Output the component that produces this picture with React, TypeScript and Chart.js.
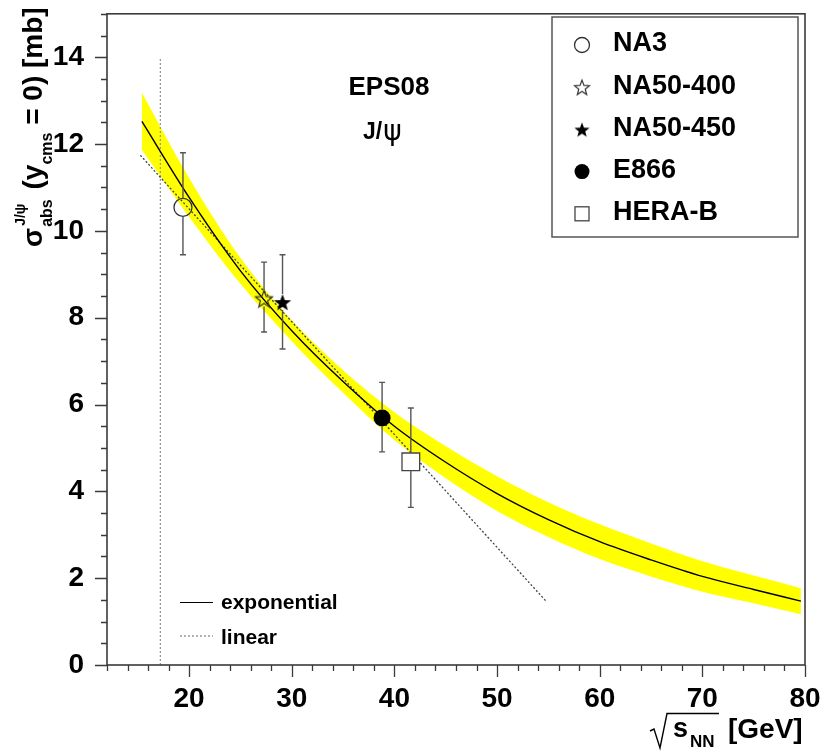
import React, { useEffect, useRef } from "react";
import { Chart, registerables } from "chart.js";

Chart.register(...registerables);

// ---------- data ----------
const xTickValues = [20, 30, 40, 50, 60, 70, 80];
const yTickValues = [0, 2, 4, 6, 8, 10, 12, 14];

// exponential fit curve
const curveX = [15.4, 20, 25, 30, 35, 40, 45, 50, 55, 60, 65, 70, 75, 79.6];
const expCurveY = [12.52, 10.77, 9.08, 7.7, 6.53, 5.5, 4.67, 3.95, 3.35, 2.84, 2.42, 2.04, 1.74, 1.47];
const bandUpper = [13.18, 11.22, 9.38, 7.94, 6.79, 5.82, 5.04, 4.35, 3.75, 3.24, 2.8, 2.39, 2.06, 1.77];
const bandLower = [11.86, 10.32, 8.78, 7.46, 6.27, 5.18, 4.3, 3.55, 2.95, 2.44, 2.04, 1.69, 1.42, 1.17];

// linear fit
const linX = [15.25, 54.85];
const linY = [11.74, 1.45];

// vertical marker at SPS energy
const vX = [17.2, 17.2];
const vY = [0, 14];

// measurements
const expNames = ["NA3", "NA50-400", "NA50-450", "E866", "HERA-B"];
const expX = [19.4, 27.3, 29.1, 38.8, 41.6];
const expY = [10.54, 8.44, 8.36, 5.69, 4.68];
const errHigh = [11.8, 9.28, 9.45, 6.51, 5.92];
const errLow = [9.45, 7.67, 7.28, 4.91, 3.63];

const FONT = "'Liberation Sans', Arial, Helvetica, sans-serif";
const AXIS_COLOR = "#3a3a3a";

function makeStar(size: number, filled: boolean): HTMLCanvasElement {
  const c = document.createElement("canvas");
  c.width = size;
  c.height = size;
  const g = c.getContext("2d")!;
  const cx = size / 2;
  const cy = size / 2 + size * 0.05;
  const R = size / 2 - 1;
  const r = R * 0.42;
  g.beginPath();
  for (let i = 0; i < 10; i++) {
    const a = -Math.PI / 2 + (i * Math.PI) / 5;
    const rad = i % 2 === 0 ? R : r;
    const px = cx + rad * Math.cos(a);
    const py = cy + rad * Math.sin(a);
    if (i === 0) g.moveTo(px, py);
    else g.lineTo(px, py);
  }
  g.closePath();
  if (filled) {
    g.fillStyle = "#000";
    g.fill();
  } else {
    g.strokeStyle = "#333";
    g.lineWidth = 1.2;
    g.stroke();
  }
  return c;
}

function drawMarker(ctx: CanvasRenderingContext2D, kind: number, x: number, y: number, stars: HTMLCanvasElement[]) {
  ctx.save();
  if (kind === 0) {
    ctx.beginPath();
    ctx.arc(x, y, 7.5, 0, Math.PI * 2);
    ctx.strokeStyle = "#333";
    ctx.lineWidth = 1.3;
    ctx.stroke();
  } else if (kind === 1) {
    ctx.drawImage(stars[0], x - stars[0].width / 2, y - stars[0].height / 2);
  } else if (kind === 2) {
    ctx.drawImage(stars[1], x - stars[1].width / 2, y - stars[1].height / 2);
  } else if (kind === 3) {
    ctx.beginPath();
    ctx.arc(x, y, 7.5, 0, Math.PI * 2);
    ctx.fillStyle = "#000";
    ctx.fill();
  } else {
    ctx.strokeStyle = "#444";
    ctx.lineWidth = 1.3;
    ctx.strokeRect(x - 7, y - 7, 14, 14);
  }
  ctx.restore();
}

export default function App() {
  const ref = useRef<HTMLCanvasElement | null>(null);

  useEffect(() => {
    const canvas = ref.current;
    if (!canvas) return;
    const starOpen = makeStar(20, false);
    const starFilled = makeStar(20, true);
    const legendStarOpen = makeStar(18, false);
    const legendStarFilled = makeStar(18, true);

    const pts = (xs: number[], ys: number[]) => xs.map((x, i) => ({ x, y: ys[i] }));

    const decor = {
      id: "decor",
      afterDatasetsDraw(chart: any) {
        const ctx: CanvasRenderingContext2D = chart.ctx;
        const xs = chart.scales.x;
        const ys = chart.scales.y;
        // error bars
        const gaps = [9, 8, 8, 8.5, 9];
        ctx.save();
        ctx.strokeStyle = "#555";
        ctx.lineWidth = 1.4;
        for (let i = 0; i < expX.length; i++) {
          const px = xs.getPixelForValue(expX[i]);
          const py = ys.getPixelForValue(expY[i]);
          const ph = ys.getPixelForValue(errHigh[i]);
          const pl = ys.getPixelForValue(errLow[i]);
          ctx.beginPath();
          ctx.moveTo(px, ph);
          ctx.lineTo(px, py - gaps[i]);
          ctx.moveTo(px, py + gaps[i]);
          ctx.lineTo(px, pl);
          ctx.moveTo(px - 3, ph);
          ctx.lineTo(px + 3, ph);
          ctx.moveTo(px - 3, pl);
          ctx.lineTo(px + 3, pl);
          ctx.stroke();
        }
        ctx.restore();
      },
      afterDraw(chart: any) {
        const ctx: CanvasRenderingContext2D = chart.ctx;
        const { left, right, top, bottom } = chart.chartArea;
        const xs = chart.scales.x;
        const ys = chart.scales.y;
        ctx.save();
        // frame
        ctx.strokeStyle = AXIS_COLOR;
        ctx.lineWidth = 1.6;
        ctx.strokeRect(left, top, right - left, bottom - top);
        // ticks
        ctx.lineWidth = 1.3;
        ctx.beginPath();
        for (let v = 12; v <= 80.001; v += 2) {
          const p = Math.round(xs.getPixelForValue(v)) + 0.5;
          const major = Math.abs(v % 10) < 1e-6;
          ctx.moveTo(p, bottom);
          ctx.lineTo(p, bottom + (major ? 12 : 6));
        }
        for (let v = 0; v <= 15.001; v += 0.5) {
          const p = Math.round(ys.getPixelForValue(v)) + 0.5;
          const major = Math.abs(v % 2) < 1e-6;
          ctx.moveTo(left, p);
          ctx.lineTo(left - (major ? 12 : 6), p);
        }
        ctx.stroke();

        ctx.fillStyle = "#000";
        ctx.strokeStyle = "#000";
        // y title (rotated)
        ctx.save();
        ctx.translate(42, 247);
        ctx.rotate(-Math.PI / 2);
        ctx.textBaseline = "alphabetic";
        ctx.textAlign = "left";
        let cx = 0;
        ctx.font = `bold 28px ${FONT}`;
        ctx.fillText("σ", cx, 0);
        cx += ctx.measureText("σ").width + 1;
        ctx.font = `bold 16px ${FONT}`;
        ctx.fillText("abs", cx, 10);
        const wAbs = ctx.measureText("abs").width;
        ctx.font = `bold 14px ${FONT}`;
        ctx.fillText("J/ψ", cx + 1, -17);
        const wJ = ctx.measureText("J/ψ").width;
        cx += Math.max(wAbs, wJ) + 2;
        ctx.font = `bold 28px ${FONT}`;
        ctx.fillText(" (y", cx, 0);
        cx += ctx.measureText(" (y").width;
        ctx.font = `bold 16px ${FONT}`;
        ctx.fillText("cms", cx, 10);
        cx += ctx.measureText("cms").width;
        ctx.font = `bold 28px ${FONT}`;
        ctx.fillText(" = 0) [mb]", cx, 0);
        ctx.restore();

        // x title
        ctx.lineWidth = 1.4;
        ctx.beginPath();
        ctx.moveTo(650, 731);
        ctx.lineTo(654, 729);
        ctx.lineTo(660, 748);
        ctx.lineTo(667, 713.5);
        ctx.lineTo(719, 713.5);
        ctx.stroke();
        ctx.textAlign = "left";
        ctx.textBaseline = "alphabetic";
        ctx.font = `bold 27px ${FONT}`;
        ctx.fillText("s", 673, 737);
        ctx.font = `bold 17px ${FONT}`;
        ctx.fillText("NN", 690, 747);
        ctx.font = `bold 28px ${FONT}`;
        ctx.fillText("[GeV]", 728, 738);

        // EPS08 / J/psi
        ctx.textAlign = "center";
        ctx.textBaseline = "middle";
        ctx.font = `bold 26px ${FONT}`;
        ctx.fillText("EPS08", 389, 88);
        ctx.textAlign = "left";
        ctx.textBaseline = "alphabetic";
        ctx.font = `bold 23px ${FONT}`;
        ctx.fillText("J/", 363, 139);
        const wj = ctx.measureText("J/").width;
        ctx.font = `28px 'DejaVu Sans', ${FONT}`;
        ctx.fillText("ψ", 363 + wj + 1, 140);

        // legend box
        ctx.strokeStyle = "#555";
        ctx.lineWidth = 1.5;
        ctx.strokeRect(552, 17, 246, 220);
        const stars = [legendStarOpen, legendStarFilled];
        ctx.font = `bold 27px ${FONT}`;
        ctx.textBaseline = "middle";
        ctx.fillStyle = "#000";
        for (let i = 0; i < expNames.length; i++) {
          const y = 44 + i * 42.2;
          drawMarker(ctx, i, 582, y + 1, stars);
          ctx.fillStyle = "#000";
          ctx.fillText(expNames[i], 613, y);
        }

        // lower legend
        ctx.strokeStyle = "#000";
        ctx.lineWidth = 1.2;
        ctx.beginPath();
        ctx.moveTo(180, 602.5);
        ctx.lineTo(213, 602.5);
        ctx.stroke();
        ctx.strokeStyle = "#666";
        ctx.setLineDash([2, 2]);
        ctx.beginPath();
        ctx.moveTo(180, 636);
        ctx.lineTo(213, 636);
        ctx.stroke();
        ctx.setLineDash([]);
        ctx.font = `bold 21px ${FONT}`;
        ctx.textBaseline = "alphabetic";
        ctx.fillText("exponential", 221, 609);
        ctx.fillText("linear", 221, 644);
        ctx.restore();
      },
    };

    const chart = new Chart(canvas, {
      type: "scatter",
      data: {
        datasets: [
          {
            label: "NA3",
            data: [{ x: expX[0], y: expY[0] }],
            pointStyle: "circle",
            pointRadius: 9,
            pointBorderColor: "#333",
            pointBorderWidth: 1.3,
            pointBackgroundColor: "rgba(0,0,0,0)",
            order: 0,
          },
          {
            label: "NA50-400",
            data: [{ x: expX[1], y: expY[1] }],
            pointStyle: starOpen,
            pointRadius: 10,
            order: 0,
          },
          {
            label: "NA50-450",
            data: [{ x: expX[2], y: expY[2] }],
            pointStyle: starFilled,
            pointRadius: 10,
            order: 0,
          },
          {
            label: "E866",
            data: [{ x: expX[3], y: expY[3] }],
            pointStyle: "circle",
            pointRadius: 8.5,
            pointBorderColor: "#000",
            pointBorderWidth: 0,
            pointBackgroundColor: "#000",
            order: 0,
          },
          {
            label: "HERA-B",
            data: [{ x: expX[4], y: expY[4] }],
            pointStyle: "rect",
            pointRadius: 12.5,
            pointBorderColor: "#444",
            pointBorderWidth: 1.3,
            pointBackgroundColor: "#fff",
            order: 0,
          },
          {
            label: "exponential",
            data: pts(curveX, expCurveY),
            showLine: true,
            borderColor: "#000",
            borderWidth: 1.4,
            pointRadius: 0,
            cubicInterpolationMode: "monotone",
            fill: false,
            order: 5,
          },
          {
            label: "linear",
            data: pts(linX, linY),
            showLine: true,
            borderColor: "#444",
            borderWidth: 1.3,
            borderDash: [2, 2],
            pointRadius: 0,
            fill: false,
            order: 6,
          },
          {
            label: "sps",
            data: pts(vX, vY),
            showLine: true,
            borderColor: "#999",
            borderWidth: 1.3,
            borderDash: [2, 2],
            pointRadius: 0,
            fill: false,
            order: 7,
          },
          {
            label: "band-up",
            data: pts(curveX, bandUpper),
            showLine: true,
            borderWidth: 0,
            borderColor: "rgba(0,0,0,0)",
            backgroundColor: "#ffff00",
            pointRadius: 0,
            cubicInterpolationMode: "monotone",
            fill: "+1",
            order: 10,
          },
          {
            label: "band-low",
            data: pts(curveX, bandLower),
            showLine: true,
            borderWidth: 0,
            borderColor: "rgba(0,0,0,0)",
            pointRadius: 0,
            cubicInterpolationMode: "monotone",
            fill: false,
            order: 11,
          },
        ] as any,
      },
      options: {
        animation: false,
        responsive: true,
        maintainAspectRatio: false,
        layout: { padding: { left: 0, top: 10, right: 19, bottom: 0 } },
        plugins: {
          legend: { display: false },
          tooltip: { enabled: false },
          filler: { propagate: false },
        },
        scales: {
          x: {
            type: "linear",
            min: 12,
            max: 80,
            grid: { display: false },
            border: { display: false },
            afterBuildTicks: (s: any) => {
              s.ticks = xTickValues.map((v) => ({ value: v }));
            },
            afterFit: (s: any) => {
              s.height = 87;
              s.paddingLeft = 0;
              s.paddingRight = 0;
            },
            ticks: {
              font: { family: FONT, size: 28, weight: "bold" },
              color: "#000",
              padding: 9,
              maxRotation: 0,
              autoSkip: false,
            },
          },
          y: {
            type: "linear",
            min: 0,
            max: 15,
            grid: { display: false },
            border: { display: false },
            afterBuildTicks: (s: any) => {
              s.ticks = yTickValues.map((v) => ({ value: v }));
            },
            afterFit: (s: any) => {
              s.width = 107;
              s.paddingTop = 0;
              s.paddingBottom = 0;
            },
            ticks: {
              font: { family: FONT, size: 28, weight: "bold" },
              color: "#000",
              padding: 15,
              autoSkip: false,
            },
          },
        },
      } as any,
      plugins: [decor],
    });

    return () => chart.destroy();
  }, []);

  return (
    <div style={{ position: "absolute", left: 0, top: 0, width: 824, height: 752, background: "#fff" }}>
      <canvas ref={ref} />
    </div>
  );
}
